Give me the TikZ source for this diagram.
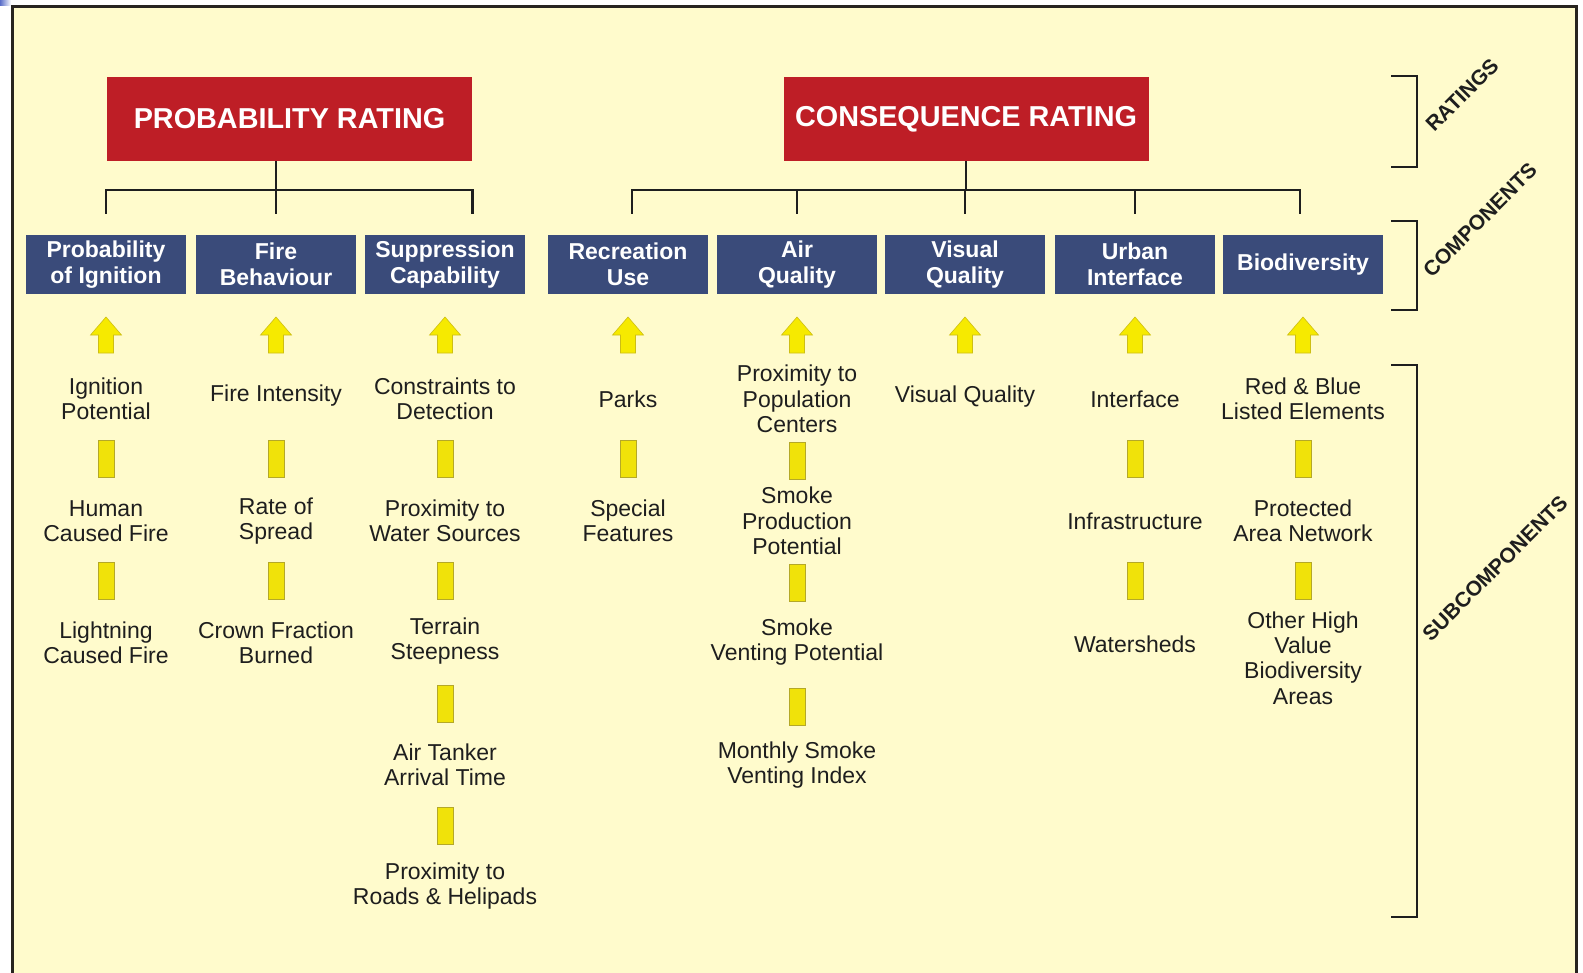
\documentclass[tikz,border=0pt]{standalone}
\usepackage{fontspec}
\setmainfont{Liberation Sans}
\usepackage{tikz}
\usepackage{xcolor}
\usetikzlibrary{calc}

\definecolor{cream}{RGB}{255,251,204}
\definecolor{framegray}{RGB}{40,36,32}
\definecolor{ratingred}{RGB}{190,30,38}
\definecolor{compblue}{RGB}{58,75,122}
\definecolor{arrowyellow}{RGB}{246,234,0}
\definecolor{arrowedge}{RGB}{205,190,20}
\definecolor{baryellow}{RGB}{240,226,10}
\definecolor{baredge}{RGB}{180,168,40}
\definecolor{inkgray}{RGB}{30,30,30}
\definecolor{slideblue}{RGB}{90,110,200}

\tikzset{
  rating/.style={fill=ratingred,text=white,inner sep=0,minimum width=182.5pt,minimum height=42pt,font=\bfseries\fontsize{14.4}{17}\selectfont},
  comp/.style={fill=compblue,text=white,inner sep=0,align=center,minimum width=80pt,minimum height=29.5pt,font=\bfseries\fontsize{11.5}{13.1}\selectfont},
  sub/.style={text=inkgray,inner sep=1pt,align=center,font=\fontsize{11.5}{12.65}\selectfont},
  bar/.style={fill=baryellow,draw=baredge,line width=0.3pt,inner sep=0,minimum width=8pt,minimum height=18.5pt},
  treeline/.style={draw=inkgray,line width=1.3pt},
  sidelabel/.style={text=inkgray,inner sep=0,rotate=45,font=\bfseries\fontsize{10.5}{12}\selectfont},
  upblock/.pic={\fill[arrowyellow,draw=arrowedge,line width=0.3pt] (-7.5,18) -- (-7.5,0) -- (-15.5,0) -- (0,-18) -- (15.5,0) -- (7.5,0) -- (7.5,18) -- cycle;}
}

\begin{document}
\begin{tikzpicture}[x=0.5pt,y=-0.5pt]
  \useasboundingbox (0,0) rectangle (1583,973);
  \fill[white] (0,0) rectangle (1583,973);
  \shade[left color=slideblue,right color=white] (0,0) rectangle (11,6);
  \draw[fill=cream,draw=framegray,line width=1.5pt] (12.5,6.5) rectangle (1576.5,995);

  \node[rating] (prob) at (289.5,119) {PROBABILITY RATING};
  \node[rating] (cons) at (966,119) {CONSEQUENCE RATING};

  \foreach \n/\x/\t in {poi/106/{Probability\\of Ignition},fb/276/{Fire\\Behaviour},sc/445/{Suppression\\Capability},ru/628/{Recreation\\Use},aq/797/{Air\\Quality},vq/965/{Visual\\Quality},ui/1135/{Urban\\Interface},bd/1303/{Biodiversity}} {
    \node[comp] (\n) at (\x,264.5) {\t};
    \pic at (\x,335) {upblock};
  }

  \coordinate (pbus) at (fb.north |- 0,190);
  \draw[treeline] (prob.south -| pbus) -- (pbus) -- ++(0,24);
  \draw[treeline] ($(poi.north |- pbus)+(0,24)$) -- (poi.north |- pbus) -- (prob.south east |- pbus) -- ++(0,24);
  \coordinate (cbus) at (cons.south |- 0,190);
  \draw[treeline] (cons.south) -- (cbus);
  \draw[treeline] ($(ru.north |- cbus)+(4,24)$) -- ++(0,-24) -- ($(bd.north |- cbus)+(-3,0)$) -- ++(0,24);
  \foreach \n in {aq,vq,ui} \draw[treeline] (\n.north |- cbus) -- ++(0,24);

  \foreach \n/\x/\y/\t in {
    ip/106/399/{Ignition\\Potential},
    hcf/106/521/{Human\\Caused Fire},
    lcf/106/643/{Lightning\\Caused Fire},
    fi/276/396/{Fire Intensity},
    ros/276/521/{Rate of\\Spread},
    cfb/276/643/{Crown Fraction\\Burned},
    ctd/445/399/{Constraints to\\Detection},
    pws/445/521/{Proximity to\\Water Sources},
    ts/445/641/{Terrain\\Steepness},
    aat/445/765/{Air Tanker\\Arrival Time},
    prh/445/886/{Proximity to\\Roads \& Helipads},
    pk/628/399/{Parks},
    sf/628/521/{Special\\Features},
    ppc/797/399/{Proximity to\\Population\\Centers},
    spp/797/521/{Smoke\\Production\\Potential},
    svp/797/642/{Smoke\\Venting Potential},
    msv/797/765/{Monthly Smoke\\Venting Index},
    vqs/965/397/{Visual Quality},
    itf/1135/399/{Interface},
    inf/1135/521/{Infrastructure},
    ws/1135/644/{Watersheds},
    rbl/1303/399/{Red \& Blue\\Listed Elements},
    pan/1303/521/{Protected\\Area Network},
    ohv/1303/658/{Other High\\Value\\Biodiversity\\Areas}}
    \node[sub] (\n) at (\x,\y) {\t};

  \foreach \x/\y [count=\i] in {106/459,106/581,276/459,276/581,445/459,445/581,445/704,445/826,628/459,797/461,797/583,797/707,1135/459,1135/581,1303/459,1303/581}
    \node[bar] (bar\i) at (\x,\y) {};

  \foreach \a/\b in {76/167,221/310,365/917}
    \draw[treeline] (1391,\a) -| (1417,\b) -- (1391,\b);
  \node[sidelabel] (lrat) at (1462,95) {RATINGS};
  \node[sidelabel] (lcomp) at (1480,220) {COMPONENTS};
  \node[sidelabel] (lsub) at (1495,568) {SUBCOMPONENTS};
\end{tikzpicture}
\end{document}
